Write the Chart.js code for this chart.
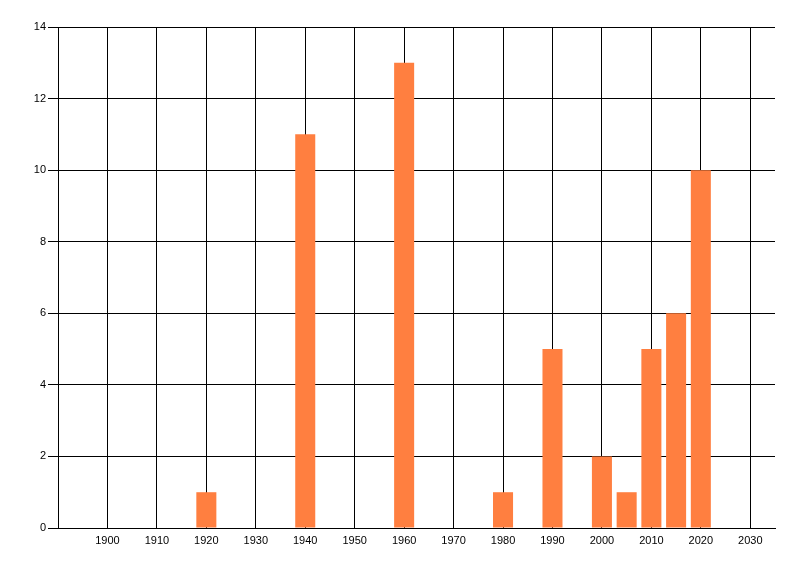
<!DOCTYPE html>
<html>
<head>
<meta charset="utf-8">
<script src="https://cdn.jsdelivr.net/npm/chart.js@4/dist/chart.umd.min.js"></script>
<style>
html,body{margin:0;padding:0;background:#fff;}
#wrap{position:relative;width:800px;height:576px;}
</style>
</head>
<body>
<div id="wrap"><canvas id="c" width="800" height="576"></canvas></div>
<script>
const years = [1920, 1940, 1960, 1980, 1990, 2000, 2005, 2010, 2015, 2020];
const counts = [1, 11, 13, 1, 5, 2, 1, 5, 6, 10];
const xTicks = [1900, 1910, 1920, 1930, 1940, 1950, 1960, 1970, 1980, 1990, 2000, 2010, 2020, 2030];
const yTicks = [0, 2, 4, 6, 8, 10, 12, 14];

const font = {family: "'Liberation Sans', Arial, sans-serif", size: 11};

new Chart(document.getElementById('c'), {
  type: 'bar',
  data: {
    datasets: [{
      data: years.map((y, i) => ({x: y, y: counts[i]})),
      backgroundColor: '#FF7F40',
      borderWidth: 0,
      barPercentage: 0.81,
      categoryPercentage: 1
    }]
  },
  options: {
    responsive: false,
    animation: false,
    devicePixelRatio: 1,
    layout: {padding: {top: 27, right: 25, left: 0, bottom: 0}},
    plugins: {legend: {display: false}, tooltip: {enabled: false}},
    scales: {
      x: {
        type: 'linear',
        min: 1890,
        max: 2035,
        offset: false,
        grid: {offset: false, lineWidth: 1, drawTicks: false, color: '#000'},
        border: {color: '#000', width: 1},
        afterBuildTicks: s => { s.ticks = xTicks.map(v => ({value: v})); },
        afterFit: s => { s.height = 48; },
        ticks: {color: '#000', font: font, padding: 6, maxRotation: 0, autoSkip: false,
                includeBounds: false, callback: v => String(v)}
      },
      y: {
        type: 'linear',
        min: 0,
        max: 14,
        grid: {color: '#000', lineWidth: 1, drawTicks: true, tickLength: 10},
        border: {color: '#000', width: 1},
        afterBuildTicks: s => { s.ticks = yTicks.map(v => ({value: v})); },
        afterFit: s => { s.width = 58; },
        ticks: {color: '#000', font: font, padding: 2, callback: v => String(v)}
      }
    }
  }
});
</script>
</body>
</html>
